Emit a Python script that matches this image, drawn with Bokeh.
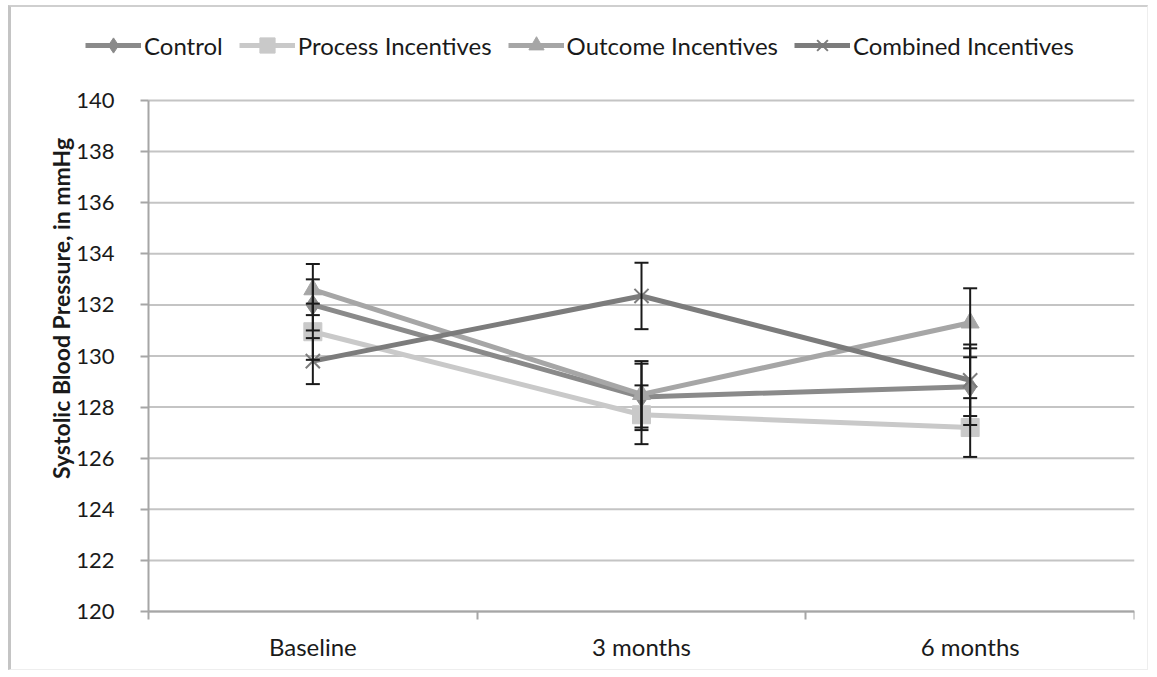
import numpy as np
from bokeh.plotting import figure
from bokeh.models import (Range1d, FixedTicker, Legend, LegendItem, Whisker,
                          ColumnDataSource, TeeHead, LinearAxis)
from bokeh.embed import file_html
from bokeh.resources import INLINE

categories = ["Baseline", "3 months", "6 months"]
series_names = ["Control", "Process Incentives", "Outcome Incentives", "Combined Incentives"]

control = [132.0, 128.4, 128.8]
process = [130.95, 127.7, 127.2]
outcome = [132.6, 128.5, 131.3]
combined = [129.8, 132.35, 129.05]

control_err = [1.0, 1.3, 1.5]
process_err = [1.1, 1.15, 1.15]
outcome_err = [1.0, 1.3, 1.35]
combined_err = [0.9, 1.3, 1.4]

y_ticks = list(range(120, 141, 2))

values = [control, process, outcome, combined]
errors = [control_err, process_err, outcome_err, combined_err]
colors = ["#8a8a8a", "#c9c9c9", "#a6a6a6", "#7c7c7c"]
markers = ["diamond", "square", "triangle", "x"]
msizes = [20, 18, 18, 20]

FONT = "Lato"
TXT = "#1a1a1a"
AX = "#a6a6a6"

n = len(categories)
x_pos = [i + 0.5 for i in range(n)]
y_min, y_max = y_ticks[0], y_ticks[-1]

# layout geometry (px)
W, H = 1140, 665
CANVAS_L, CANVAS_T = 11, 7
MB_T, MB_R, MB_B = 5, 17, 3
FRAME_L, FRAME_T = CANVAS_L, CANVAS_T + MB_T
FRAME_B = CANVAS_T + H - MB_B
AREA_L, AREA_R, AREA_T, AREA_B = 148, 1134, 100, 611
px_x = (AREA_R - AREA_L) / n
px_y = (AREA_B - AREA_T) / (y_max - y_min)
x_start = -(AREA_L - FRAME_L) / px_x
y_end = y_max + (AREA_T - FRAME_T) / px_y
y_start = y_min - (FRAME_B - AREA_B) / px_y

p = figure(width=W, height=H, output_backend="svg", toolbar_location=None,
           x_range=Range1d(x_start, n), y_range=Range1d(y_start, y_end),
           min_border_left=0, min_border_right=MB_R, min_border_top=MB_T,
           min_border_bottom=MB_B)
p.styles = {"margin-left": "8px", "margin-top": "5px",
            "border-left": "3px solid #c4c4c4", "border-top": "2px solid #cfcfcf",
            "border-right": "1px solid #eeeeee", "border-bottom": "1px solid #eeeeee"}
p.outline_line_color = None
p.background_fill_color = "white"
p.border_fill_color = "white"

# x axis pinned at y = y_min
p.xaxis.fixed_location = y_min
p.xaxis.bounds = (0, n)
p.xaxis.ticker = FixedTicker(ticks=x_pos, minor_ticks=list(range(n + 1)))
p.xaxis.major_label_overrides = {x: c for x, c in zip(x_pos, categories)}
p.xaxis.major_tick_out = 0
p.xaxis.major_tick_in = 0
p.xaxis.minor_tick_out = 8
p.xaxis.minor_tick_in = 0
p.xaxis.minor_tick_line_color = AX
p.xaxis.minor_tick_line_width = 2
p.xaxis.axis_line_color = AX
p.xaxis.axis_line_width = 2
p.xaxis.major_label_text_font = FONT
p.xaxis.major_label_text_font_size = "24px"
p.xaxis.major_label_text_color = TXT
p.xaxis.major_label_standoff = 12

# y axis pinned at x = 0
p.yaxis.fixed_location = 0
p.yaxis.bounds = (y_min, y_max)
p.yaxis.ticker = FixedTicker(ticks=y_ticks)
p.yaxis.minor_tick_line_color = None
p.yaxis.major_tick_out = 8
p.yaxis.major_tick_in = 0
p.yaxis.major_tick_line_color = AX
p.yaxis.major_tick_line_width = 2
p.yaxis.axis_line_color = AX
p.yaxis.axis_line_width = 2
p.yaxis.major_label_text_font = FONT
p.yaxis.major_label_text_font_size = "22px"
p.yaxis.major_label_text_color = TXT
p.yaxis.major_label_standoff = 26

# y axis title (own axis, no ticks) so it can sit where the reference has it
TITLE_X_PX, TITLE_Y_PX = 76, 308
title_x = (TITLE_X_PX - AREA_L) / px_x
title_y = y_max - (TITLE_Y_PX - AREA_T) / px_y
title_axis = LinearAxis(fixed_location=title_x, bounds=(title_y - 2, title_y + 2),
                        ticker=FixedTicker(ticks=[]), axis_line_color=None,
                        major_tick_line_color=None, minor_tick_line_color=None,
                        axis_label="Systolic Blood Pressure, in mmHg",
                        axis_label_text_font=FONT, axis_label_text_font_size="23px",
                        axis_label_text_font_style="bold", axis_label_text_color=TXT,
                        axis_label_standoff=2)
p.add_layout(title_axis, "left")

# horizontal gridlines limited to the plot area
p.grid.visible = False
p.segment(x0=[0] * len(y_ticks), x1=[n] * len(y_ticks), y0=y_ticks, y1=y_ticks,
          line_color="#c4c4c4", line_width=2)

items = []
whiskers = []
for name, vals, errs, col, mk, ms in zip(series_names, values, errors, colors, markers, msizes):
    src = ColumnDataSource(dict(x=x_pos, y=vals,
                                lo=[v - e for v, e in zip(vals, errs)],
                                hi=[v + e for v, e in zip(vals, errs)]))
    ln = p.line("x", "y", source=src, line_color=col, line_width=5)
    if mk == "x":
        sc = p.scatter("x", "y", source=src, marker=mk, size=ms, line_color=col, line_width=2)
    else:
        sc = p.scatter("x", "y", source=src, marker=mk, size=ms, fill_color=col, line_color=col)
    items.append(LegendItem(label=name, renderers=[ln, sc]))
    w = Whisker(source=src, base="x", lower="lo", upper="hi", line_color=TXT,
                line_width=2, level="overlay",
                upper_head=TeeHead(size=14, line_color=TXT, line_width=2),
                lower_head=TeeHead(size=14, line_color=TXT, line_width=2))
    whiskers.append(w)

for w in whiskers:
    p.add_layout(w)

GLYPH_H = 38
legend = Legend(items=items, location=(85 - FRAME_L, FRAME_B - 45 - GLYPH_H // 2),
                orientation="horizontal",
                glyph_width=56, glyph_height=GLYPH_H, label_standoff=3, spacing=16,
                padding=0, margin=0, border_line_color=None, background_fill_alpha=0,
                label_text_font=FONT, label_text_font_size="24px",
                label_text_color=TXT)
p.add_layout(legend, "center")

open("out.html", "w").write(file_html(p, INLINE))
